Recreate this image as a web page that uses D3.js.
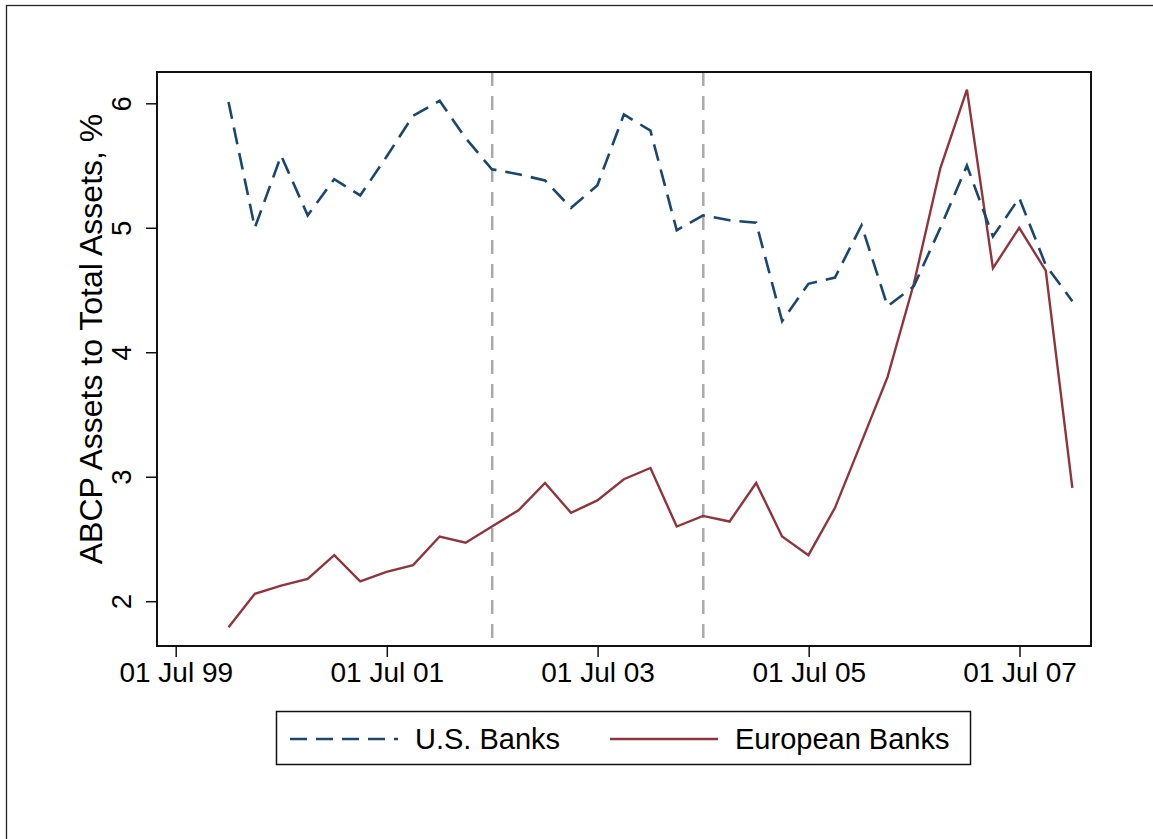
<!DOCTYPE html>
<html>
<head>
<meta charset="utf-8">
<script src="https://cdn.jsdelivr.net/npm/d3@7"></script>
<style>
  html, body { margin: 0; padding: 0; background: #fff; }
  svg { display: block; }
  text { font-family: "Liberation Sans", Arial, Helvetica, sans-serif; fill: #000; }
</style>
</head>
<body>
<svg id="chart" width="1153" height="839"></svg>
<script>
// Quarter-end observation dates
const quarters = [
  "1999-12-31", "2000-03-31", "2000-06-30", "2000-09-30",
  "2000-12-31", "2001-03-31", "2001-06-30", "2001-09-30",
  "2001-12-31", "2002-03-31", "2002-06-30", "2002-09-30",
  "2002-12-31", "2003-03-31", "2003-06-30", "2003-09-30",
  "2003-12-31", "2004-03-31", "2004-06-30", "2004-09-30",
  "2004-12-31", "2005-03-31", "2005-06-30", "2005-09-30",
  "2005-12-31", "2006-03-31", "2006-06-30", "2006-09-30",
  "2006-12-31", "2007-03-31", "2007-06-30", "2007-09-30",
  "2007-12-31"
];

// ABCP assets to total assets, %
const usBanks = [
  6.01, 5.00, 5.58, 5.10, 5.39, 5.26, 5.57, 5.90,
  6.02, 5.72, 5.47, 5.43, 5.38, 5.16, 5.34, 5.91,
  5.78, 4.98, 5.10, 5.06, 5.04, 4.25, 4.55, 4.60,
  5.02, 4.37, 4.53, 5.00, 5.50, 4.93, 5.24, 4.70,
  4.41
];
const europeanBanks = [
  1.79, 2.06, 2.125, 2.18, 2.37, 2.16, 2.235, 2.29,
  2.52, 2.47, 2.60, 2.73, 2.95, 2.71, 2.81, 2.98,
  3.07, 2.60, 2.685, 2.64, 2.95, 2.52, 2.37, 2.75,
  3.28, 3.80, 4.55, 5.48, 6.11, 4.675, 5.00, 4.655,
  2.91
];

// Axis ticks and event markers
const xTickDates = ["1999-07-01", "2001-07-01", "2003-07-01", "2005-07-01", "2007-07-01"];
const yTicks = [2, 3, 4, 5, 6];
const eventDates = ["2002-07-01", "2004-07-01"];

const seriesNames = ["U.S. Banks", "European Banks"];
const yTitle = "ABCP Assets to Total Assets, %";

const parse = d3.timeParse("%Y-%m-%d");
const fmt = d3.timeFormat("%d %b %y");

const svg = d3.select("#chart");
const plot = { left: 157, right: 1091, top: 72, bottom: 646 };

const x = d3.scaleTime()
  .domain([parse("1999-07-01"), parse("2007-07-01")])
  .range([175.7, 1019.5]);
const y = d3.scaleLinear()
  .domain([2, 6])
  .range([601.2, 103.3]);

// outer graph region border
svg.append("rect")
  .attr("x", 6.5).attr("y", 5.5)
  .attr("width", 1160).attr("height", 850)
  .attr("fill", "none").attr("stroke", "#222").attr("stroke-width", 1.3);

// event reference lines
svg.append("g").selectAll("line")
  .data(eventDates)
  .join("line")
  .attr("x1", d => x(parse(d))).attr("x2", d => x(parse(d)))
  .attr("y1", plot.top).attr("y2", plot.bottom)
  .attr("stroke", "#a9a9a9").attr("stroke-width", 2.5)
  .attr("stroke-dasharray", "14,10");

const pts = (vals) => vals.map((v, i) => [parse(quarters[i]), v]);
const line = d3.line().x(d => x(d[0])).y(d => y(d[1]));

svg.append("path")
  .datum(pts(europeanBanks))
  .attr("d", line)
  .attr("fill", "none").attr("stroke", "#90353b").attr("stroke-width", 2.4)
  .attr("stroke-linejoin", "miter");

svg.append("path")
  .datum(pts(usBanks))
  .attr("d", line)
  .attr("fill", "none").attr("stroke", "#1a476f").attr("stroke-width", 2.6)
  .attr("stroke-dasharray", "17,9");

// plot frame
svg.append("rect")
  .attr("x", plot.left).attr("y", plot.top)
  .attr("width", plot.right - plot.left).attr("height", plot.bottom - plot.top)
  .attr("fill", "none").attr("stroke", "#111").attr("stroke-width", 2);

// x axis
const xAxis = d3.axisBottom(x)
  .tickValues(xTickDates.map(parse))
  .tickFormat(fmt)
  .tickSize(11)
  .tickPadding(5);
const gx = svg.append("g")
  .attr("transform", `translate(0,${plot.bottom})`)
  .call(xAxis);
gx.select(".domain").remove();
gx.selectAll(".tick line").attr("stroke", "#111").attr("stroke-width", 1.5);
gx.selectAll(".tick text").attr("font-size", 28).attr("font-family", "Liberation Sans, Arial, sans-serif");

// y axis (labels rotated)
const yAxis = d3.axisLeft(y)
  .tickValues(yTicks)
  .tickFormat(d3.format("d"))
  .tickSize(11);
const gy = svg.append("g")
  .attr("transform", `translate(${plot.left},0)`)
  .call(yAxis);
gy.select(".domain").remove();
gy.selectAll(".tick line").attr("stroke", "#111").attr("stroke-width", 1.5);
gy.selectAll(".tick text")
  .attr("font-size", 27.5)
  .attr("font-family", "Liberation Sans, Arial, sans-serif")
  .attr("x", null).attr("dy", null)
  .attr("text-anchor", "middle")
  .attr("transform", "translate(-26,0) rotate(-90)")
  .attr("y", 0);

// y axis title
svg.append("text")
  .attr("transform", "translate(102,339) rotate(-90)")
  .attr("text-anchor", "middle")
  .attr("font-size", 32)
  .text(yTitle);

// legend
const legend = svg.append("g");
legend.append("rect")
  .attr("x", 276.5).attr("y", 711.5)
  .attr("width", 694).attr("height", 53)
  .attr("fill", "#fff").attr("stroke", "#111").attr("stroke-width", 1.5);
const legendItems = [
  { name: seriesNames[0], color: "#1a476f", dash: "17,9", x0: 290, tx: 415 },
  { name: seriesNames[1], color: "#90353b", dash: null, x0: 610, tx: 735 }
];
legendItems.forEach(it => {
  legend.append("line")
    .attr("x1", it.x0).attr("x2", it.x0 + 108)
    .attr("y1", 739).attr("y2", 739)
    .attr("stroke", it.color).attr("stroke-width", 2.6)
    .attr("stroke-dasharray", it.dash);
  legend.append("text")
    .attr("x", it.tx).attr("y", 749)
    .attr("font-size", 29)
    .text(it.name);
});
</script>
</body>
</html>
